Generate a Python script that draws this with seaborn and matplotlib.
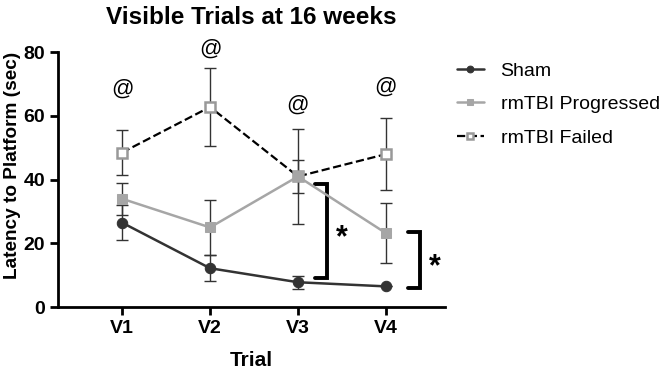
import numpy as np
import pandas as pd
import seaborn as sns
import matplotlib.pyplot as plt

trials = ['V1', 'V2', 'V3', 'V4']
sham_mean = [26.5, 12.2, 7.8, 6.5]
sham_err = [5.5, 4.0, 2.0, 0.0]
prog_mean = [34.0, 25.0, 41.0, 23.2]
prog_err = [5.0, 8.5, 5.2, 9.5]
fail_mean = [48.5, 62.8, 41.0, 48.0]
fail_err = [7.0, 12.3, 15.0, 11.3]
at_pos = [68.5, 81.0, 63.5, 69.0]

sns.set_style('ticks')
plt.rcParams['font.family'] = ['Liberation Sans', 'DejaVu Sans']
plt.rcParams.update({'text.color': 'black', 'axes.labelcolor': 'black',
                     'xtick.color': 'black', 'ytick.color': 'black',
                     'axes.edgecolor': 'black'})

x = np.arange(len(trials))
df = pd.DataFrame({
    'x': np.tile(x, 3),
    'value': sham_mean + prog_mean + fail_mean,
    'group': ['Sham'] * 4 + ['rmTBI Progressed'] * 4 + ['rmTBI Failed'] * 4,
})

fig = plt.figure(figsize=(6.68, 3.70), dpi=100)
ax = fig.add_axes([0.087, 0.170, 0.579, 0.689])

# Fehlerbalken
for m, e in [(fail_mean, fail_err), (prog_mean, prog_err), (sham_mean, sham_err)]:
    ax.errorbar(x, m, yerr=e, fmt='none', ecolor='#333333', elinewidth=1.0,
                capsize=4, capthick=1.0, zorder=2)

sns.lineplot(data=df[df.group == 'rmTBI Failed'], x='x', y='value', ax=ax,
             color='black', linestyle='--', linewidth=1.6, marker='s', markersize=7.5,
             markerfacecolor='white', markeredgecolor='#999999', markeredgewidth=1.8,
             label='rmTBI Failed', zorder=3)
sns.lineplot(data=df[df.group == 'rmTBI Progressed'], x='x', y='value', ax=ax,
             color='#a6a6a6', linewidth=1.8, marker='s', markersize=7.5,
             markeredgecolor='#a6a6a6', label='rmTBI Progressed', zorder=4)
sns.lineplot(data=df[df.group == 'Sham'], x='x', y='value', ax=ax,
             color='#333333', linewidth=1.8, marker='o', markersize=7.5,
             markeredgecolor='#333333', label='Sham', zorder=5)

for xi, yi in zip(x, at_pos):
    ax.text(xi, yi, '@', ha='center', va='center', fontsize=16)

# Signifikanz-Klammern
def bracket(xc, y0, y1, w=0.14):
    ax.plot([xc - w, xc, xc, xc - w], [y1, y1, y0, y0], color='black', lw=2.8,
            clip_on=False, solid_joinstyle='miter')

bracket(2.33, 9.0, 38.5)
ax.text(2.5, 21.5, '*', ha='center', va='center', fontsize=22, fontweight='bold')
bracket(3.39, 6.0, 23.5)
ax.text(3.56, 12.5, '*', ha='center', va='center', fontsize=22, fontweight='bold')

ax.set_xlim(-0.727, 3.67)
ax.set_ylim(0, 80)
ax.set_xticks(x)
ax.set_xticklabels(trials)
ax.set_yticks([0, 20, 40, 60, 80])
ax.tick_params(labelsize=14, width=2, length=6)
for lab in ax.get_xticklabels() + ax.get_yticklabels():
    lab.set_fontweight('bold')
for s in ['left', 'bottom']:
    ax.spines[s].set_linewidth(2)
sns.despine(ax=ax)
ax.set_xlabel('Trial', fontsize=15, fontweight='bold', labelpad=10)
ax.set_ylabel('Latency to Platform (sec)', fontsize=13.7, fontweight='bold')
ax.yaxis.set_label_coords(-0.097, 0.557)
ax.set_title('Visible Trials at 16 weeks', fontsize=17.5, fontweight='bold', pad=20)

h, l = ax.get_legend_handles_labels()
order = [l.index('Sham'), l.index('rmTBI Progressed'), l.index('rmTBI Failed')]
leg = ax.legend([h[i] for i in order], [l[i] for i in order], loc='upper left',
                bbox_to_anchor=(0.987, 1.03), frameon=False, fontsize=14,
                handlelength=1.35, handletextpad=0.87, labelspacing=0.82,
                markerscale=0.65)

fig.savefig('out.png', dpi=100)
